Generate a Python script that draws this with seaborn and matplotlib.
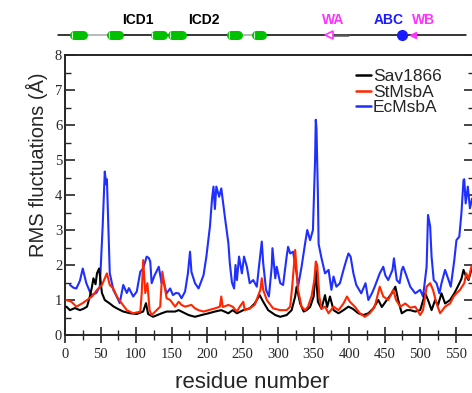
import matplotlib
matplotlib.use('Agg')
import matplotlib.pyplot as plt
import numpy as np
import pandas as pd
import seaborn as sns
from matplotlib.lines import Line2D
from matplotlib.ticker import MultipleLocator

# ---------------- data ----------------
proteins = ['Sav1866', 'StMsbA', 'EcMsbA']
colors = ['#000000', '#ff2600', '#1f2fff']

sav_res = [2, 7, 14, 21, 26, 31, 35, 38, 40, 43, 45, 48, 52, 56, 63, 68, 73, 82, 92, 101,
           110, 114, 117, 124, 136, 143, 155, 160, 165, 174, 183, 192, 202, 211, 220, 230,
           236, 242, 251, 260, 267, 274, 279, 286, 296, 303, 312, 319, 324, 326, 331, 336,
           340, 345, 350, 353, 356, 361, 366, 369, 373, 378, 385, 392, 399, 405, 413, 420,
           427, 434, 441, 446, 453, 460, 465, 469, 474, 481, 486, 493, 500, 507, 511, 516,
           521, 525, 530, 535, 542, 548, 554, 558, 561, 564, 568, 572]
sav_rmsf = [0.81, 0.71, 0.77, 0.71, 0.75, 0.81, 1.10, 1.38, 1.62, 1.45, 1.76, 1.90, 1.20,
            1.00, 0.90, 0.82, 0.76, 0.67, 0.62, 0.60, 0.67, 0.91, 0.60, 0.52, 0.62, 0.67,
            0.67, 0.71, 0.66, 0.57, 0.52, 0.57, 0.62, 0.67, 0.71, 0.62, 0.71, 0.62, 0.71,
            0.76, 0.90, 1.14, 0.95, 0.71, 0.57, 0.52, 0.57, 0.71, 1.10, 1.38, 0.90, 0.67,
            0.71, 0.80, 1.10, 1.86, 0.95, 0.75, 1.14, 0.80, 1.10, 0.71, 0.62, 0.71, 0.81,
            0.75, 0.62, 0.57, 0.62, 0.76, 1.00, 0.80, 1.00, 1.19, 1.38, 1.00, 0.62, 0.71,
            0.71, 0.67, 0.71, 1.19, 1.00, 0.71, 1.00, 0.85, 1.19, 0.90, 1.00, 1.19, 1.43,
            1.60, 1.86, 1.70, 1.57, 1.86]

st_res = [2, 9, 16, 24, 31, 38, 45, 52, 59, 63, 68, 73, 80, 87, 96, 106, 108, 110, 113, 116,
          119, 122, 129, 134, 137, 140, 143, 148, 155, 160, 164, 169, 178, 183, 188, 195,
          202, 211, 218, 220, 222, 230, 236, 242, 246, 251, 253, 260, 267, 275, 277, 279,
          284, 293, 303, 312, 317, 320, 324, 326, 328, 333, 338, 342, 347, 351, 353, 355,
          358, 361, 366, 371, 378, 385, 392, 397, 401, 408, 415, 422, 429, 436, 443, 448,
          455, 462, 466, 472, 479, 486, 493, 500, 504, 509, 514, 518, 523, 528, 535, 542,
          547, 551, 556, 562, 565, 568, 572]
st_rmsf = [1.00, 0.95, 0.81, 0.90, 1.00, 1.10, 1.29, 1.43, 1.76, 1.43, 1.33, 1.10, 0.90,
           0.71, 0.62, 0.67, 1.20, 2.14, 1.20, 1.48, 0.71, 0.57, 0.71, 0.81, 1.81, 1.43,
           1.05, 1.00, 0.81, 0.95, 0.86, 0.81, 0.86, 0.76, 0.71, 0.67, 0.71, 0.76, 0.81,
           1.10, 0.80, 0.86, 0.81, 0.67, 0.81, 0.95, 0.71, 0.76, 0.86, 1.29, 1.62, 1.29,
           1.00, 0.76, 0.71, 0.71, 0.81, 1.43, 2.43, 1.86, 1.29, 0.81, 0.71, 0.81, 1.10,
           1.57, 2.10, 2.00, 1.10, 0.75, 0.81, 0.62, 0.81, 0.71, 0.90, 1.10, 0.95, 0.81,
           0.62, 0.52, 0.62, 0.81, 1.38, 1.10, 1.00, 1.29, 1.00, 0.81, 0.90, 0.78, 0.81,
           0.57, 0.71, 1.38, 1.48, 1.29, 0.90, 0.62, 0.81, 0.90, 1.10, 1.19, 1.29, 1.48,
           1.76, 1.60, 1.95]

ec_res = [7, 12, 16, 21, 25, 30, 37, 44, 49, 53, 56, 58, 59, 61, 63, 68, 73, 77, 82, 87, 90,
          96, 101, 106, 110, 113, 115, 118, 120, 122, 126, 132, 136, 138, 143, 148, 152, 156,
          160, 164, 169, 173, 176, 178, 183, 188, 195, 199, 204, 207, 209, 211, 213, 217,
          220, 225, 230, 232, 235, 238, 240, 242, 245, 249, 252, 256, 260, 265, 270, 273,
          277, 279, 283, 287, 291, 292, 296, 298, 303, 307, 312, 314, 317, 321, 326, 328,
          333, 338, 341, 345, 349, 352, 353, 354, 356, 357, 361, 366, 371, 375, 378, 382,
          387, 392, 396, 399, 402, 406, 410, 417, 423, 427, 432, 436, 443, 448, 451, 455,
          461, 463, 467, 471, 474, 476, 481, 486, 493, 500, 504, 509, 511, 514, 516, 519,
          523, 527, 530, 535, 540, 543, 548, 551, 555, 558, 561, 562, 564, 567, 570, 573]
ec_rmsf = [1.43, 1.35, 1.33, 1.55, 1.90, 1.48, 1.14, 1.20, 1.38, 3.10, 4.67, 4.30, 4.45,
           3.10, 1.77, 1.29, 1.09, 0.91, 1.43, 1.20, 1.34, 1.10, 1.24, 1.81, 1.90, 2.10,
           2.24, 2.20, 2.10, 1.48, 1.70, 1.95, 1.48, 1.57, 1.19, 1.33, 1.14, 1.20, 1.19,
           1.05, 1.24, 1.76, 2.38, 1.80, 1.48, 1.33, 1.71, 2.24, 3.10, 3.90, 4.24, 3.60,
           4.24, 3.95, 4.19, 3.38, 2.62, 2.05, 1.50, 1.33, 2.00, 1.57, 2.24, 1.76, 2.24,
           1.95, 1.48, 1.57, 1.38, 1.95, 2.67, 2.05, 1.29, 1.10, 1.95, 2.48, 1.62, 1.95,
           1.48, 1.43, 2.24, 2.52, 2.33, 2.38, 1.76, 1.38, 1.95, 2.62, 3.00, 2.71, 3.00,
           5.00, 6.15, 5.90, 4.00, 2.60, 2.20, 1.76, 1.86, 1.29, 1.67, 1.38, 1.48, 1.86,
           2.14, 2.33, 2.24, 1.76, 1.43, 1.19, 1.48, 1.00, 1.19, 1.38, 1.76, 1.95, 1.70,
           1.57, 1.86, 2.19, 1.57, 1.48, 1.86, 1.95, 1.67, 1.38, 1.19, 1.29, 1.10, 1.95,
           3.43, 3.10, 2.24, 1.57, 1.48, 1.19, 1.48, 1.86, 1.57, 1.38, 2.14, 2.71, 2.81,
           3.48, 4.43, 4.45, 3.76, 4.24, 3.62, 3.90]

# topology bar (residue ranges)
helix_starts = [7, 59, 120, 145, 228, 263]
helix_ends = [31, 82, 144, 170, 249, 284]
topo_labels = ['ICD1', 'ICD2', 'WA', 'ABC', 'WB']
topo_label_pos = [103, 196, 377, 455, 504]
topo_label_colors = ['#000000', '#000000', '#ff33ff', '#1a1aff', '#ff33ff']

# ---------------- build table ----------------
df = pd.concat([
    pd.DataFrame({'residue': sav_res, 'rmsf': sav_rmsf, 'protein': 'Sav1866'}),
    pd.DataFrame({'residue': st_res, 'rmsf': st_rmsf, 'protein': 'StMsbA'}),
    pd.DataFrame({'residue': ec_res, 'rmsf': ec_rmsf, 'protein': 'EcMsbA'}),
], ignore_index=True)

sns.set_style('ticks')
plt.rcParams['font.family'] = ['Liberation Sans', 'DejaVu Sans']

W, H = 472, 393
fig = plt.figure(figsize=(W / 100, H / 100), dpi=100)
ax_l, ax_b = 65 / W, (H - 335) / H
ax_w, ax_h = 409.2 / W, 280 / H
ax = fig.add_axes([ax_l, ax_b, ax_w, ax_h])

pal = dict(zip(proteins, colors))
# draw blue first, then black, then red
for name, z in [('EcMsbA', 2), ('Sav1866', 3), ('StMsbA', 4)]:
    sns.lineplot(data=df[df['protein'] == name], x='residue', y='rmsf', color=pal[name],
                 estimator=None, lw=1.5, ax=ax, zorder=z, legend=False)

ax.set_xlim(0, 576)
ax.set_ylim(0, 8)
ax.xaxis.set_major_locator(MultipleLocator(50))
ax.xaxis.set_minor_locator(MultipleLocator(25))
ax.yaxis.set_major_locator(MultipleLocator(1))
ax.yaxis.set_minor_locator(MultipleLocator(0.5))
ax.tick_params(axis='x', which='major', direction='inout', length=11.5, width=1.2,
               pad=3.5, labelsize=10.5, labelfontfamily='Liberation Serif')
ax.tick_params(axis='x', which='minor', direction='inout', length=7, width=1.0)
ax.tick_params(axis='y', which='major', direction='in', length=7, width=1.2, pad=2,
               labelsize=10.5, labelfontfamily='Liberation Serif', right=True)
ax.tick_params(axis='y', which='minor', direction='in', length=4, width=1.0, right=True)
for s in ax.spines.values():
    s.set_linewidth(1.4)

ax.set_xlabel('residue number', fontsize=16, va='center')
ax.xaxis.set_label_coords((252 - 65) / 409.2, (335 - 382) / 280)
ax.set_ylabel('RMS fluctuations (Å)', fontsize=14.5, va='center')
ax.yaxis.set_label_coords((37 - 65) / 409.2, (335 - 165) / 280)

handles = [Line2D([], [], color=c, lw=1.8) for c in colors]
leg = ax.legend(handles, proteins, loc='upper left', frameon=False,
                bbox_to_anchor=((356 - 65) / 409.2, (335 - 69) / 280),
                borderpad=0, borderaxespad=0, labelspacing=0.02, handlelength=0.85,
                handletextpad=0.12, fontsize=12.5)

# ---------------- topology bar ----------------
top = fig.add_axes([ax_l, (H - 45) / H, ax_w, 40 / H], sharex=ax)
top.set_ylim(0, 1)
top.axis('off')
yl = 0.25
top.plot([-10, 564], [yl, yl], color='black', lw=1.1, clip_on=False, zorder=1)
top.plot([helix_ends[0], helix_starts[1]], [yl, yl], color='#c8c8c8', lw=1.3, zorder=2)
top.plot([helix_ends[4], helix_starts[5]], [yl, yl], color='#c8c8c8', lw=1.3, zorder=2)
top.plot([377, 398], [yl, yl], color='#555555', lw=1.8, zorder=2)
for s, e in zip(helix_starts, helix_ends):
    top.plot([s + 6, e - 6], [yl, yl], color='#00c000', lw=6.5, solid_capstyle='round',
             zorder=3, clip_on=False)
    top.plot([s + 2.5], [yl], marker='|', color='#d8ffd8', ms=5, mew=0.8, zorder=4,
             clip_on=False)
top.plot([372], [yl], marker='<', ms=6, mfc='white', mec='#ff33ff', mew=1.2, zorder=3)
top.plot([474], [yl], marker='o', ms=7, color='#1a1aff', zorder=3)
top.plot([490], [yl], marker='<', ms=4, color='#ff33ff', zorder=3)
for lab, x, c in zip(topo_labels, topo_label_pos, topo_label_colors):
    top.text(x, 0.63, lab, color=c, fontsize=10, fontweight='bold', ha='center',
             va='center')

fig.savefig('out.png', dpi=100)
